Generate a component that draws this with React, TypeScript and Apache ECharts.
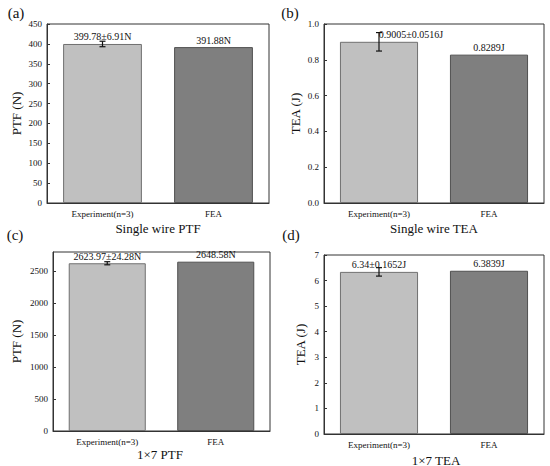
import React, { useEffect, useRef } from "react";
import * as echarts from "echarts";

const categories = ["Experiment(n=3)", "FEA"];
const ptfSingle = [399.78, 391.88];
const ptfSingleErr = 6.91;
const teaSingle = [0.9005, 0.8289];
const teaSingleErr = 0.0516;
const ptf17 = [2623.97, 2648.58];
const ptf17Err = 24.28;
const tea17 = [6.34, 6.3839];
const tea17Err = 0.1652;

const labelsA = ["399.78±6.91N", "391.88N"];
const labelsB = ["0.9005±0.0516J", "0.8289J"];
const labelsC = ["2623.97±24.28N", "2648.58N"];
const labelsD = ["6.34±0.1652J", "6.3839J"];

const titles = ["Single wire PTF", "Single wire TEA", "1×7 PTF", "1×7 TEA"];
const panelTags = ["(a)", "(b)", "(c)", "(d)"];
const yNames = ["PTF (N)", "TEA (J)", "PTF (N)", "TEA (J)"];

const FONT = "'Liberation Serif', 'Times New Roman', 'DejaVu Serif', serif";
const LIGHT = "#c0c0c0";
const DARK = "#7f7f7f";

export default function App() {
  const ref = useRef<HTMLDivElement>(null);
  useEffect(() => {
    const chart = echarts.init(ref.current!, null, { renderer: "svg" });

    const grids = [
      { left: 47, top: 24, width: 222, height: 179 },
      { left: 324, top: 24, width: 220, height: 179 },
      { left: 53, top: 252, width: 217, height: 179 },
      { left: 324, top: 255, width: 220, height: 179 },
    ];
    const yCfg = [
      { max: 450, interval: 50, gap: 24, fmt: (v: number) => String(v) },
      { max: 1.0, interval: 0.2, gap: 22, fmt: (v: number) => v.toFixed(1) },
      { max: 2800, interval: 500, gap: 30, fmt: (v: number) => String(v) },
      { max: 7, interval: 1, gap: 17, fmt: (v: number) => String(v) },
    ];
    const dataSets = [ptfSingle, teaSingle, ptf17, tea17];
    const errs = [ptfSingleErr, teaSingleErr, ptf17Err, tea17Err];
    const labelSets = [labelsA, labelsB, labelsC, labelsD];
    const labelOffsets = [[0, 0], [32, 0], [0, 0], [0, 0]];

    const series: any[] = [];
    dataSets.forEach((vals, i) => {
      series.push({
        type: "bar",
        xAxisIndex: i,
        yAxisIndex: i,
        barWidth: "71%",
        data: vals.map((v, j) => ({
          value: v,
          itemStyle: {
            color: j === 0 ? LIGHT : DARK,
            borderColor: j === 0 ? "#707070" : "#505050",
            borderWidth: 1,
          },
          label: {
            show: true,
            position: "top",
            distance: 2,
            offset: j === 0 ? labelOffsets[i] : [0, 0],
            formatter: labelSets[i][j],
            fontFamily: FONT,
            fontSize: 10,
            color: "#111",
          },
        })),
      });
      series.push({
        type: "custom",
        xAxisIndex: i,
        yAxisIndex: i,
        z: 5,
        data: [[0, vals[0], errs[i]]],
        renderItem: (params: any, api: any) => {
          const x = api.value(0);
          const y = api.value(1);
          const e = api.value(2);
          const hi = api.coord([x, y + e]);
          const lo = api.coord([x, y - e]);
          const w = 3;
          const st = { stroke: "#111", lineWidth: 1.2 };
          return {
            type: "group",
            children: [
              { type: "line", shape: { x1: hi[0], y1: hi[1], x2: lo[0], y2: lo[1] }, style: st },
              { type: "line", shape: { x1: hi[0] - w, y1: hi[1], x2: hi[0] + w, y2: hi[1] }, style: st },
              { type: "line", shape: { x1: lo[0] - w, y1: lo[1], x2: lo[0] + w, y2: lo[1] }, style: st },
            ],
          };
        },
      });
    });

    const titlePos = [
      [158, 228],
      [434, 228],
      [160, 454],
      [436, 460],
    ];
    const tagPos = [
      [16, 13],
      [290, 13],
      [15, 235],
      [291, 235],
    ];

    const graphic: any[] = [];
    titles.forEach((t, i) => {
      graphic.push({
        type: "text",
        x: titlePos[i][0],
        y: titlePos[i][1],
        style: {
          text: t,
          fontFamily: FONT,
          fontSize: 13,
          fill: "#111",
          align: "center",
          verticalAlign: "middle",
        },
      });
      graphic.push({
        type: "text",
        x: tagPos[i][0],
        y: tagPos[i][1],
        style: {
          text: panelTags[i],
          fontFamily: FONT,
          fontSize: 15,
          fill: "#111",
          align: "center",
          verticalAlign: "middle",
        },
      });
    });

    chart.setOption({
      animation: false,
      backgroundColor: "#ffffff",
      textStyle: { fontFamily: FONT },
      grid: grids.map((g) => ({ ...g, show: true, borderColor: "#333", borderWidth: 1, containLabel: false })),
      xAxis: grids.map((_, i) => ({
        type: "category",
        gridIndex: i,
        data: categories,
        axisLine: { lineStyle: { color: "#333" } },
        axisTick: { inside: true, length: 4, lineStyle: { color: "#333" } },
        axisLabel: { fontFamily: FONT, fontSize: 9, color: "#111", margin: 6 },
      })),
      yAxis: yCfg.map((c, i) => ({
        type: "value",
        gridIndex: i,
        min: 0,
        max: c.max,
        interval: c.interval,
        name: yNames[i],
        nameLocation: "middle",
        nameGap: c.gap,
        nameTextStyle: { fontFamily: FONT, fontSize: 13, color: "#111" },
        splitLine: { show: false },
        axisLine: { show: true, lineStyle: { color: "#333" } },
        axisTick: { show: true, inside: true, length: 3, lineStyle: { color: "#333" } },
        axisLabel: {
          fontFamily: FONT,
          fontSize: 9,
          color: "#111",
          margin: 5,
          showMaxLabel: i !== 2,
          formatter: c.fmt,
        },
      })),
      series,
      graphic,
    });
    return () => chart.dispose();
  }, []);
  return (
    <div
      ref={ref}
      style={{ position: "fixed", left: 0, top: 0, width: 550, height: 466, background: "#fff" }}
    />
  );
}
